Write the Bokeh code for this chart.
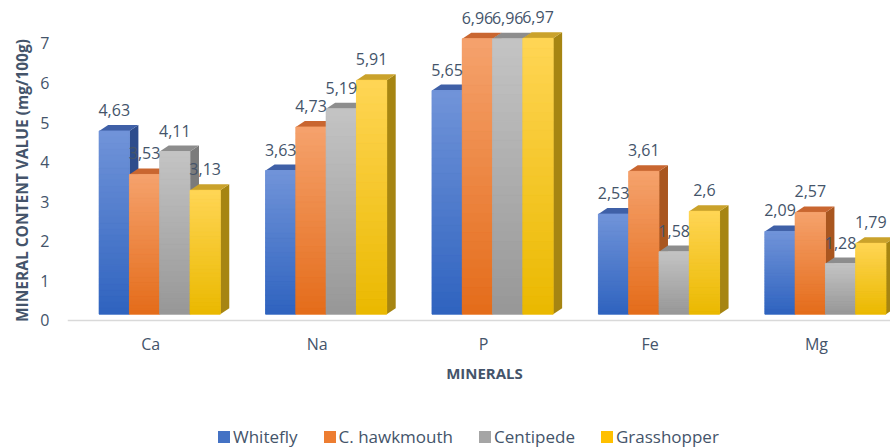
from bokeh.plotting import figure
from bokeh.layouts import column
from bokeh.models import ColumnDataSource, FixedTicker, Legend, LegendItem, Range1d
from bokeh.core.properties import value
from bokeh.embed import file_html
from bokeh.resources import INLINE

# ---------------- data ----------------
categories = ["Ca", "Na", "P", "Fe", "Mg"]
series_names = ["Whitefly", "C. hawkmouth", "Centipede", "Grasshopper"]
whitefly = [4.63, 3.63, 5.65, 2.53, 2.09]
hawkmouth = [3.53, 4.73, 6.96, 3.61, 2.57]
centipede = [4.11, 5.19, 6.96, 1.58, 1.28]
grasshopper = [3.13, 5.91, 6.97, 2.60, 1.79]
y_ticks = [0, 1, 2, 3, 4, 5, 6, 7]
x_title = "MINERALS"
y_title = "MINERAL CONTENT VALUE (mg/100g)"

series_values = [whitefly, hawkmouth, centipede, grasshopper]

# ---------------- style ----------------
FONT = "Open Sans"
TEXT = "#44546A"
base_colors = ["#4472C4", "#ED7D31", "#A5A5A5", "#FFC000"]
grad_top = ["#7194D9", "#F5A26D", "#C4C4C4", "#FFD555"]
grad_bottom = ["#2F63BF", "#E46C1A", "#979797", "#EAB900"]
top_colors = ["#3F60A7", "#C96630", "#8D8D8D", "#CAA22B"]
side_colors = ["#2D4C8C", "#A9561F", "#7B7B7B", "#A68512"]

GROUP_OFF = -0.31   # left edge of first bar relative to category centre
BAR_W = 0.182       # bar width (x units)
DX = 0.054          # 3-D depth, x units
DY = 0.152          # 3-D depth, y units
LIFT = 0.16         # front face lift (perspective)
LABEL_GAP = 0.69    # label centre above value
N_STRIPS = 30


def hex_rgb(h):
    h = h.lstrip("#")
    return tuple(int(h[k:k + 2], 16) for k in (0, 2, 4))


def mix(c1, c2, f):
    a, b = hex_rgb(c1), hex_rgb(c2)
    return "#%02x%02x%02x" % tuple(int(round(a[k] + (b[k] - a[k]) * f)) for k in range(3))


# ---------------- main chart ----------------
p = figure(width=890, height=362, output_backend="svg", toolbar_location=None,
           x_range=Range1d(-0.5, 4.445), y_range=Range1d(-0.885, 7.96),
           min_border_left=67, min_border_right=0, min_border_top=5, min_border_bottom=7)
p.xgrid.visible = False
p.ygrid.visible = False
p.outline_line_color = None
p.background_fill_color = "white"
p.border_fill_color = "white"

label_x, label_y, label_t = [], [], []

for j, vals in enumerate(series_values):
    idx = list(range(len(categories)))
    x0 = [i + GROUP_OFF + j * BAR_W for i in idx]
    x1 = [a + BAR_W for a in x0]
    xc = [a + BAR_W / 2 for a in x0]
    tops = [v + LIFT for v in vals]

    # side faces
    side_xs = [[b, b + DX, b + DX, b] for b in x1]
    side_ys = [[LIFT, LIFT + DY, t + DY, t] for t in tops]
    p.patches(side_xs, side_ys, fill_color=side_colors[j], line_color=None)

    # top faces
    top_xs = [[a, b, b + DX, a + DX] for a, b in zip(x0, x1)]
    top_ys = [[t, t, t + DY, t + DY] for t in tops]
    p.patches(top_xs, top_ys, fill_color=top_colors[j], line_color=None)

    # front faces: solid base + gradient strips
    p.vbar(x=xc, bottom=LIFT, top=tops, width=BAR_W,
           fill_color=base_colors[j], line_color=None)
    sx, sb, st, sc = [], [], [], []
    for c, v in zip(xc, vals):
        for k in range(N_STRIPS):
            sx.append(c)
            sb.append(LIFT + v * k / N_STRIPS)
            st.append(LIFT + v * (k + 1) / N_STRIPS)
            sc.append(mix(grad_bottom[j], grad_top[j], (k + 0.5) / N_STRIPS))
    src = ColumnDataSource(dict(x=sx, bottom=sb, top=st, color=sc))
    p.vbar(x="x", bottom="bottom", top="top", width=BAR_W, fill_color="color",
           line_color="color", line_width=0.8, source=src)

    for c, v in zip(xc, vals):
        label_x.append(c)
        label_y.append(v + LABEL_GAP)
        label_t.append(("%g" % v).replace(".", ","))

p.text(x=label_x, y=label_y, text=label_t, text_align="center", text_baseline="middle",
       text_font=value(FONT), text_font_size="16px", text_color=TEXT)

p.yaxis.ticker = FixedTicker(ticks=y_ticks)
p.yaxis.axis_line_color = None
p.yaxis.major_tick_line_color = None
p.yaxis.minor_tick_line_color = None
p.yaxis.major_tick_out = 0
p.yaxis.major_label_standoff = 18
p.yaxis.major_label_text_font = FONT
p.yaxis.major_label_text_font_size = "16px"
p.yaxis.major_label_text_color = TEXT
p.yaxis.axis_label = y_title
p.yaxis.axis_label_text_font = FONT
p.yaxis.axis_label_text_font_style = "bold"
p.yaxis.axis_label_text_font_size = "15.5px"
p.yaxis.axis_label_text_color = TEXT
p.yaxis.axis_label_standoff = 4

p.xaxis.ticker = FixedTicker(ticks=list(range(len(categories))))
p.xaxis.fixed_location = 0
p.xaxis.major_label_overrides = {i: c for i, c in enumerate(categories)}
p.xaxis.axis_line_color = "#D9D9D9"
p.xaxis.axis_line_width = 1.5
p.xaxis.major_tick_line_color = None
p.xaxis.minor_tick_line_color = None
p.xaxis.major_tick_out = 0
p.xaxis.major_label_standoff = 13
p.xaxis.major_label_text_font = FONT
p.xaxis.major_label_text_font_size = "16px"
p.xaxis.major_label_text_color = TEXT

# ---------------- x title + legend strip (frame aligned with chart frame) ----------------
q = figure(width=890, height=86, output_backend="svg", toolbar_location=None,
           x_range=Range1d(67, 890), y_range=Range1d(86, 0),
           min_border_left=67, min_border_right=0, min_border_top=0, min_border_bottom=0)
q.axis.visible = False
q.xgrid.visible = False
q.ygrid.visible = False
q.outline_line_color = None
q.background_fill_color = "white"
q.border_fill_color = "white"

q.text(x=[484], y=[10], text=[x_title], text_align="center", text_baseline="middle",
       text_font=value(FONT), text_font_size="15px", text_font_style="bold", text_color=TEXT)

legend_items = []
for j, name in enumerate(series_names):
    # zero-size stub bar, only used to give the legend entry its colour swatch
    r = q.vbar(x=[0], bottom=[0], top=[0], width=0, fill_color=base_colors[j], line_color=None)
    legend_items.append(LegendItem(label=name, renderers=[r]))

legend = Legend(items=legend_items, orientation="horizontal", location=(149, 0),
                label_text_font=FONT, label_text_font_size="17px", label_text_color=TEXT,
                glyph_width=15, glyph_height=15, label_standoff=2, spacing=24,
                padding=0, margin=0, border_line_color=None, background_fill_alpha=0)
q.add_layout(legend, "center")

layout = column(p, q, spacing=0)
open("out.html", "w").write(file_html(layout, INLINE))
